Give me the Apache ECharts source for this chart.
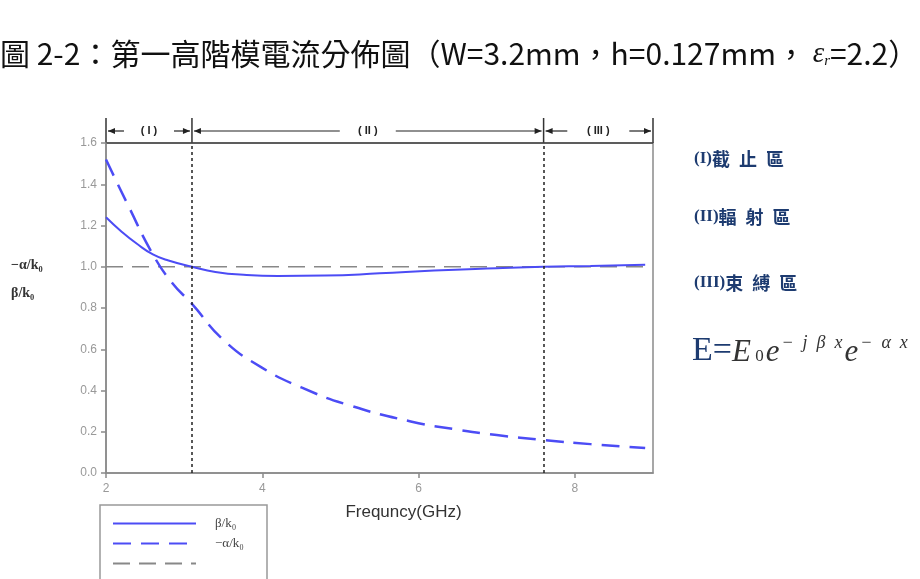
<!DOCTYPE html>
<html>
<head>
<meta charset="utf-8">
<script src="https://cdn.jsdelivr.net/npm/echarts@6/dist/echarts.min.js"></script>
<style>
html, body { margin: 0; padding: 0; background: #fff; }
#main { width: 920px; height: 579px; }
</style>
</head>
<body>
<div id="main"></div>
<script>
// beta/k0 (solid)
var betaFreq = [2.0, 2.2, 2.4, 2.6, 2.8, 3.1, 3.4, 3.8, 4.2, 4.8, 5.5, 6.2, 7.0, 7.6, 8.2, 8.9];
var betaVals = [1.24, 1.17, 1.11, 1.06, 1.03, 1.0, 0.975, 0.96, 0.955, 0.957, 0.968, 0.982, 0.993, 1.0, 1.004, 1.01];
// -alpha/k0 (dashed)
var alphaFreq = [2.0, 2.28, 2.6, 2.85, 3.1, 3.5, 4.0, 4.5, 5.1, 5.9, 6.5, 7.0, 7.6, 8.2, 8.9];
var alphaVals = [1.52, 1.30, 1.06, 0.92, 0.82, 0.646, 0.51, 0.415, 0.33, 0.25, 0.21, 0.184, 0.16, 0.14, 0.121];
// reference line at 1.0
var refFreq = [2.0, 8.9];
var refVals = [1.0, 1.0];
// region boundaries and labels
var regionBounds = [2, 3.1, 7.6, 9];
var regionNames = ['( I )', '( II )', '( III )'];
var regionTags = ['(I)', '(II)', '(III)'];
var regionWords = ['截\u2002止\u2002區', '輻\u2002射\u2002區', '束\u2002縛\u2002區'];
var legendNames = ['β/k₀', '−α/k₀', ' '];

var blue = '#4c4cf5';
var navy = '#1d3b70';

function pairs(xs, ys) {
  var out = [];
  for (var i = 0; i < xs.length; i++) out.push([xs[i], ys[i]]);
  return out;
}

var chart = echarts.init(document.getElementById('main'));

var option = {
  backgroundColor: '#fff',
  animation: false,
  grid: { left: 106, top: 143, right: 267, bottom: 106, show: true, borderColor: '#8a8a8a', borderWidth: 1.5 },
  legend: {
    orient: 'vertical',
    left: 100, top: 513,
    padding: [4, 10, 2, 12],
    itemGap: 7,
    itemWidth: 83, itemHeight: 14,
    itemStyle: { opacity: 0 },
    data: legendNames,
    textStyle: { fontFamily: 'Liberation Serif', fontSize: 13, color: '#444', padding: [0, 0, 0, 14], width: 48 }
  },
  xAxis: {
    type: 'value', min: 2, max: 9, interval: 2,
    name: 'Frequncy(GHz)', nameLocation: 'middle', nameGap: 31,
    nameTextStyle: { fontFamily: 'Liberation Sans', fontSize: 17, color: '#333', padding: [0, 0, 0, 48] },
    axisLine: { lineStyle: { color: '#8a8a8a', width: 1.5 } },
    axisTick: { show: true, length: 5, lineStyle: { color: '#8a8a8a', width: 1.5 } },
    axisLabel: { showMaxLabel: false, color: '#999', fontFamily: 'Liberation Sans', fontSize: 12, margin: 10 },
    splitLine: { show: false }
  },
  yAxis: {
    type: 'value', min: 0, max: 1.6, interval: 0.2,
    axisLine: { show: true, lineStyle: { color: '#8a8a8a', width: 1.5 } },
    axisTick: { show: true, length: 5, lineStyle: { color: '#8a8a8a', width: 1.5 } },
    axisLabel: { color: '#999', fontFamily: 'Liberation Sans', fontSize: 12, margin: 9,
      formatter: function (v) { return v.toFixed(1); } },
    splitLine: { show: false }
  },
  series: [
    {
      name: legendNames[0], type: 'line', smooth: true, showSymbol: false, symbol: 'none',
      data: pairs(betaFreq, betaVals), z: 4,
      lineStyle: { color: blue, width: 2 }, itemStyle: { color: blue },
      markLine: {
        silent: true, symbol: 'none', label: { show: false },
        lineStyle: { type: [3, 3], color: '#222', width: 1.5 },
        data: [{ xAxis: regionBounds[1] }, { xAxis: regionBounds[2] }]
      }
    },
    {
      name: legendNames[1], type: 'line', smooth: true, showSymbol: false, symbol: 'none',
      data: pairs(alphaFreq, alphaVals), z: 4,
      lineStyle: { color: blue, width: 2.5, type: [18, 10] }, itemStyle: { color: blue }
    },
    {
      name: legendNames[2], type: 'line', showSymbol: false, symbol: 'none',
      data: pairs(refFreq, refVals), z: 3,
      lineStyle: { color: '#888', width: 1.5, type: [17, 9] }, itemStyle: { color: '#888' }
    }
  ]
};
chart.setOption(option);

// annotations placed through the axis scales
var graphics = [];
var topY = 143, sepTop = 118, arrowY = 131;
function px(v) { return chart.convertToPixel({ xAxisIndex: 0 }, v); }
function arrow(x, dir) {
  return { type: 'polygon', silent: true, shape: { points: [[x, arrowY], [x - dir * 7, arrowY - 3], [x - dir * 7, arrowY + 3]] }, style: { fill: '#222' } };
}
for (var i = 0; i < regionBounds.length; i++) {
  var bx = px(regionBounds[i]);
  graphics.push({ type: 'line', silent: true, shape: { x1: bx, y1: sepTop, x2: bx, y2: topY }, style: { stroke: '#333', lineWidth: 1.5 } });
}
graphics.push({ type: 'line', silent: true, shape: { x1: px(regionBounds[0]), y1: topY, x2: px(regionBounds[3]), y2: topY }, style: { stroke: '#444', lineWidth: 1.5 } });
for (var r = 0; r < regionNames.length; r++) {
  var a = px(regionBounds[r]) + 2, b = px(regionBounds[r + 1]) - 2;
  var c = (a + b) / 2;
  var half = regionNames[r].length * 3 + 10;
  graphics.push({ type: 'line', silent: true, shape: { x1: a, y1: arrowY, x2: c - half, y2: arrowY }, style: { stroke: '#222', lineWidth: 1.2 } });
  graphics.push({ type: 'line', silent: true, shape: { x1: c + half, y1: arrowY, x2: b, y2: arrowY }, style: { stroke: '#222', lineWidth: 1.2 } });
  graphics.push(arrow(a, -1));
  graphics.push(arrow(b, 1));
  graphics.push({ type: 'text', silent: true, x: c, y: arrowY, style: { text: regionNames[r], fill: '#222', font: 'bold 11px "Liberation Sans"', align: 'center', verticalAlign: 'middle' } });
}

// legend frame (runs off the bottom edge like the original)
graphics.push({ type: 'rect', silent: true, shape: { x: 100, y: 505, width: 167, height: 100 }, style: { fill: 'none', stroke: '#999', lineWidth: 1.5 } });

// title
graphics.push({
  type: 'text', silent: true, left: 0, top: 39,
  style: {
    text: '{a|圖 2-2：第一高階模電流分佈圖（W=3.2mm，h=0.127mm， }{e|ε}{s|r}{a|=2.2）}',
    rich: {
      a: { fontFamily: 'Noto Sans CJK TC', fontSize: 30, fill: '#111' },
      e: { fontFamily: 'Liberation Serif', fontStyle: 'italic', fontSize: 29, fill: '#111' },
      s: { fontFamily: 'Liberation Serif', fontStyle: 'italic', fontSize: 15, fill: '#111', padding: [14, 0, 0, 0] }
    }
  }
});

// left axis labels
graphics.push({ type: 'text', silent: true, left: 11, top: 258, style: { text: '−α/k₀', font: 'bold 14px "Liberation Serif"', fill: '#333' } });
graphics.push({ type: 'text', silent: true, left: 11, top: 286, style: { text: 'β/k₀', font: 'bold 14px "Liberation Serif"', fill: '#333' } });

// region notes on the right
var noteTops = [150, 208, 274];
for (var n = 0; n < regionTags.length; n++) {
  graphics.push({ type: 'text', silent: true, left: 694, top: noteTops[n],
    style: {
      text: '{t|' + regionTags[n] + '}{w|' + regionWords[n] + '}',
      rich: {
        t: { fontFamily: 'Liberation Serif', fontWeight: 'bold', fontSize: 17, fill: navy, verticalAlign: 'middle' },
        w: { fontFamily: 'Noto Sans CJK TC', fontWeight: 'bold', fontSize: 18, fill: navy, verticalAlign: 'middle' }
      }
    } });
}

// field expression
graphics.push({
  type: 'text', silent: true, left: 692, top: 334,
  style: {
    text: '{E|E=}{i|E}{z| 0}{i|e}{p|−\u2002j\u2002β\u2002x}{i|e}{p|−\u2002α\u2002x}',
    rich: {
      E: { fontFamily: 'Liberation Serif', fontSize: 34, fill: navy, verticalAlign: 'bottom' },
      i: { fontFamily: 'Liberation Serif', fontStyle: 'italic', fontSize: 31, fill: '#333', verticalAlign: 'bottom' },
      z: { fontFamily: 'Liberation Serif', fontSize: 17, fill: '#333', verticalAlign: 'bottom', padding: [0, 2, 3, 0] },
      p: { fontFamily: 'Liberation Serif', fontStyle: 'italic', fontSize: 18, fill: '#333', verticalAlign: 'bottom', padding: [0, 2, 16, 2] }
    }
  }
});

chart.setOption({ graphic: graphics });
</script>
</body>
</html>
